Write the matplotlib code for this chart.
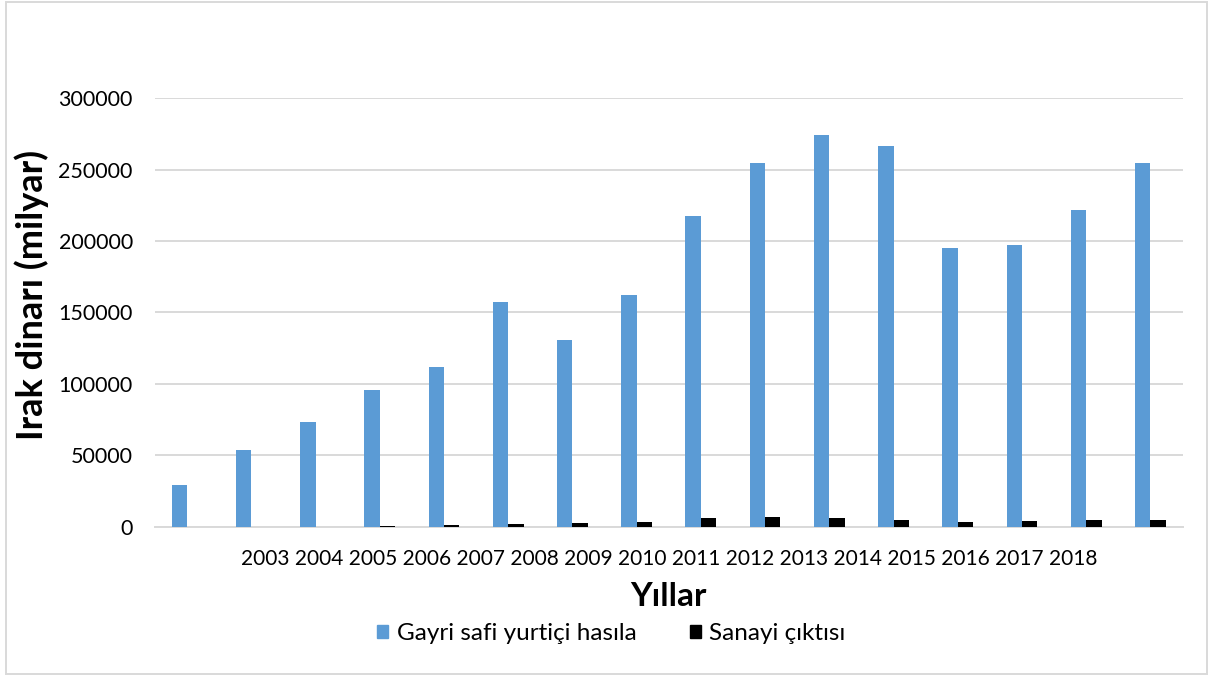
import numpy as np
import matplotlib
matplotlib.use("Agg")
import matplotlib.pyplot as plt
from matplotlib.patches import Rectangle, Patch

plt.rcParams["font.family"] = ["Lato", "DejaVu Sans"]

# --- Data ---
years = ["2003", "2004", "2005", "2006", "2007", "2008", "2009", "2010",
         "2011", "2012", "2013", "2014", "2015", "2016", "2017", "2018"]
gsyh = [29200, 53700, 73500, 95600, 111700, 157200, 130600, 162100,
        217400, 254400, 274000, 266300, 195000, 197000, 221500, 254500]
sanayi = [0, 200, 300, 1000, 1400, 2200, 3000, 3400,
          6100, 7000, 6300, 4800, 3400, 4500, 4700, 4900]

BLUE = "#5B9BD5"
BLACK = "#000000"
GRID = "#D9D9D9"

fig = plt.figure(figsize=(12.08, 6.75), dpi=100)
ax = fig.add_axes([0.1283, 0.2193, 0.8506, 0.6355])

x = np.arange(len(years))
w = 0.24
ax.bar(x - w / 2, gsyh, w, color=BLUE, label="Gayri safi yurtiçi hasıla", zorder=3)
ax.bar(x + w / 2, sanayi, w, color=BLACK, label="Sanayi çıktısı", zorder=3)

ax.set_xlim(-0.5, len(years) - 0.5)
ax.set_ylim(0, 300000)
ax.set_yticks(np.arange(0, 300001, 50000))
ax.yaxis.grid(True, color=GRID, lw=1.4)
ax.set_axisbelow(True)
for s in ["top", "right", "left"]:
    ax.spines[s].set_visible(False)
ax.spines["bottom"].set_color(GRID)
ax.spines["bottom"].set_linewidth(1.4)
ax.tick_params(axis="y", length=0, pad=16, labelsize=15.5, colors="#000000")

# category labels appear as one run of text centred under the plot
ax.set_xticks([x.mean()])
ax.set_xticklabels([" ".join(years)])
ax.tick_params(axis="x", length=0, pad=16, labelsize=15)

ax.set_xlabel("Yıllar", fontsize=24, fontweight="bold", labelpad=9)
ax.set_ylabel("Irak dinarı (milyar)", fontsize=26, fontweight="bold")
ax.yaxis.set_label_coords(-0.103, 0.54)

handles = [Patch(color=BLUE), Patch(color=BLACK)]
fig.legend(handles, ["Gayri safi yurtiçi hasıla", "Sanayi çıktısı"],
           loc="center", bbox_to_anchor=(0.506, 0.061), ncol=2, frameon=False,
           fontsize=17.5, handlelength=0.45, handleheight=0.45, handletextpad=0.35,
           columnspacing=2.2)

fig.patches.append(Rectangle((0.005, 0.0015), 0.994, 0.996, transform=fig.transFigure,
                             fill=False, edgecolor=GRID, lw=1.4))

fig.savefig("out.png", dpi=100)
